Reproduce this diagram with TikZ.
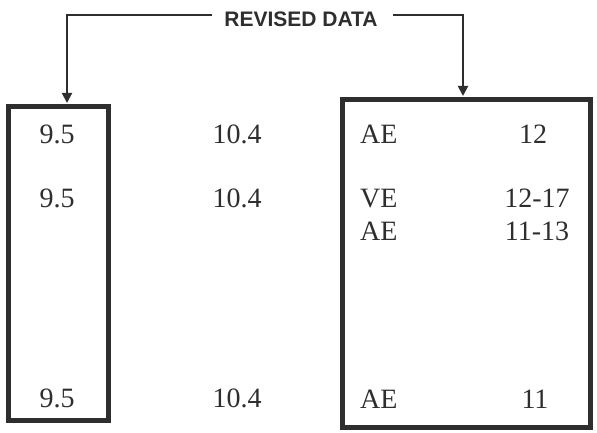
\documentclass[tikz,border=0pt]{standalone}
\usepackage{fontspec}
\setmainfont{Liberation Serif}
\newfontfamily\headfont{Liberation Sans}
\usetikzlibrary{arrows.meta}
\definecolor{ink}{HTML}{2E2E2E}
\tikzset{
  frame/.style={draw=ink, line width=5pt, rectangle, inner sep=0pt},
  cell/.style={text=ink, font=\fontsize{28}{30}\selectfont, inner sep=0pt, anchor=base},
  cellw/.style={cell, anchor=base west},
  head/.style={text=ink, font=\headfont\bfseries\fontsize{21}{23}\selectfont, inner sep=0pt},
  conn/.style={draw=ink, line width=2pt, -{Triangle[width=10pt,length=10pt]}}
}
\begin{document}
\begin{tikzpicture}[x=1pt,y=-1pt]
\useasboundingbox (0,0) rectangle (597,433);
% boxes
\node[frame, minimum width=100pt, minimum height=313pt] (lbox) at (58,263.5) {};
\node[frame, minimum width=248pt, minimum height=327pt] (rbox) at (466,263.5) {};
% title
\node[head] (title) at (301,19.5) {REVISED DATA};
\coordinate (tl) at (212,15);
\coordinate (tr) at (393,15);
\coordinate (la) at (67,103);
\coordinate (ra) at (463,96);
\draw[conn] (tl) -| (la);
\draw[conn] (tr) -| (ra);
% left column
\node[cell] (a1) at (57,143) {9.5};
\node[cell] (a2) at (57,207) {9.5};
\node[cell] (a3) at (57,407) {9.5};
% middle column
\node[cell] (b1) at (237,143) {10.4};
\node[cell] (b2) at (237,207) {10.4};
\node[cell] (b3) at (237,407) {10.4};
% right box text
\node[cellw] (c1) at (360,143) {AE};
\node[cellw] (c2) at (360,207) {VE};
\node[cellw] (c3) at (360,240) {AE};
\node[cellw] (c4) at (360,408) {AE};
\node[cell] (d1) at (533,143) {12};
\node[cell] (d2) at (537,207) {12-17};
\node[cell] (d3) at (537,240) {11-13};
\node[cell] (d4) at (535,408) {11};
\end{tikzpicture}
\end{document}
